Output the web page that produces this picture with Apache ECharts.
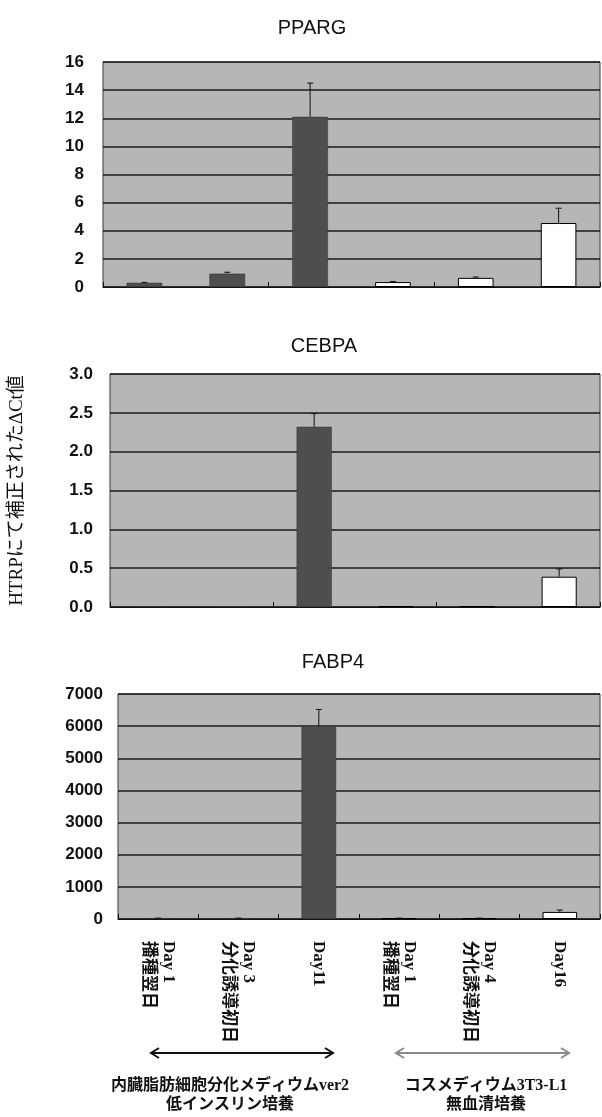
<!DOCTYPE html>
<html>
<head>
<meta charset="utf-8">
<script src="https://cdn.jsdelivr.net/npm/echarts@6/dist/echarts.min.js"></script>
<style>
  html, body { margin: 0; padding: 0; background: #fff; }
  #chart { width: 602px; height: 1117px; }
</style>
</head>
<body>
<div id="chart"></div>
<script>
// Sampling points: day label and culture stage note for each bar
const dayLabels = ['Day 1', 'Day 3', 'Day11', 'Day 1', 'Day 4', 'Day16'];
const stageNotes = ['播種翌日', '分化誘導初日', '', '播種翌日', '分化誘導初日', ''];
// Medium used for each bar (0 = 内臓脂肪細胞分化メディウムver2, 1 = コスメディウム3T3-L1)
const mediumIndex = [0, 0, 0, 1, 1, 1];

// Relative expression (ΔCt corrected by HTRP) and upper error per gene
const ppargValues = [0.3, 0.95, 12.1, 0.35, 0.65, 4.55];
const ppargErrors = [0.03, 0.1, 2.4, 0.04, 0.06, 1.05];
const cebpaValues = [0.01, 0.01, 2.32, 0.01, 0.01, 0.39];
const cebpaErrors = [0.0, 0.0, 0.17, 0.0, 0.0, 0.1];
const fabp4Values = [25, 25, 6000, 25, 25, 220];
const fabp4Errors = [3, 3, 520, 3, 3, 60];

// Tick settings per panel
const ppargTicks = { min: 0, max: 16, interval: 2 };
const cebpaTicks = { min: 0, max: 3, interval: 0.5 };
const fabp4Ticks = { min: 0, max: 7000, interval: 1000 };

const sansFont = "'Liberation Sans', Arial, 'Noto Sans CJK JP', sans-serif";
const serifFont = "'Liberation Serif', 'DejaVu Serif', 'Noto Sans CJK JP', serif";

const darkFill = '#4e4e4e';
const plotFill = '#b6b6b6';

const categories = dayLabels.map((d, i) => d + (stageNotes[i] ? '\n' + stageNotes[i] : ''));

function barData(values) {
  return values.map((v, i) => ({
    value: v,
    itemStyle: mediumIndex[i] === 0
      ? { color: darkFill, borderColor: '#333', borderWidth: 0.5 }
      : { color: '#ffffff', borderColor: '#000', borderWidth: 1 }
  }));
}

function errorData(values, errors) {
  return values.map((v, i) => [i, v, errors[i]]);
}

// Upper error whisker with a short cap
function renderError(params, api) {
  const idx = api.value(0);
  const v = api.value(1);
  const e = api.value(2);
  if (!(e > 0)) return null;
  const base = api.coord([idx, v]);
  const top = api.coord([idx, v + e]);
  const style = { stroke: '#111', lineWidth: 1 };
  return {
    type: 'group',
    children: [
      { type: 'line', shape: { x1: base[0], y1: base[1], x2: top[0], y2: top[1] }, style },
      { type: 'line', shape: { x1: top[0] - 3, y1: top[1], x2: top[0] + 3, y2: top[1] }, style }
    ]
  };
}

const grids = [
  { left: 103, right: 2, top: 62, height: 225 },
  { left: 109, right: 2, top: 374, height: 233 },
  { left: 118, right: 2, top: 694, height: 225 }
].map(g => Object.assign(g, {
  show: true, backgroundColor: plotFill, borderColor: '#3a3a3a', borderWidth: 1, containLabel: false
}));

function makeXAxis(gridIndex, showLabels) {
  return {
    type: 'category',
    gridIndex,
    data: categories,
    boundaryGap: true,
    axisLine: { show: true, lineStyle: { color: '#111', width: 1 } },
    axisTick: { show: true, inside: true, length: 5, lineStyle: { color: '#111' } },
    splitLine: { show: false },
    axisLabel: showLabels ? {
      show: true,
      rotate: -90,
      margin: 22,
      interval: 0,
      formatter: (val, idx) => {
        const note = stageNotes[idx];
        return '{d|' + dayLabels[idx] + '}' + (note ? '\n{n|' + note + '}' : '');
      },
      rich: {
        d: { fontFamily: serifFont, fontSize: 17, fontWeight: 'bold', color: '#111', lineHeight: 20 },
        n: { fontFamily: serifFont, fontSize: 17, fontWeight: 'bold', color: '#111', lineHeight: 20 }
      }
    } : { show: false }
  };
}

function makeYAxis(gridIndex, ticks, margin, decimals, extra) {
  return Object.assign({
    type: 'value',
    gridIndex,
    min: ticks.min,
    max: ticks.max,
    interval: ticks.interval,
    axisLine: { show: false },
    axisTick: { show: false },
    splitLine: { show: true, lineStyle: { color: '#1a1a1a', width: 1.5 } },
    axisLabel: {
      margin,
      fontFamily: sansFont,
      fontSize: 17,
      fontWeight: 'bold',
      color: '#111',
      formatter: v => v.toFixed(decimals)
    }
  }, extra || {});
}

function panelSeries(idx, values, errors) {
  return [
    {
      type: 'bar',
      xAxisIndex: idx,
      yAxisIndex: idx,
      barWidth: '43%',
      data: barData(values),
      silent: true
    },
    {
      type: 'custom',
      xAxisIndex: idx,
      yAxisIndex: idx,
      renderItem: renderError,
      data: errorData(values, errors),
      z: 5,
      silent: true
    }
  ];
}

const titleStyle = { fontFamily: sansFont, fontSize: 20, fontWeight: 'normal', color: '#111' };

const captionFont = 'bold 16px ' + serifFont;

const option = {
  animation: false,
  backgroundColor: '#ffffff',
  title: [
    { text: 'PPARG', left: 307, top: 13, textAlign: 'center', textStyle: titleStyle },
    { text: 'CEBPA', left: 319, top: 331, textAlign: 'center', textStyle: titleStyle },
    { text: 'FABP4', left: 328, top: 647, textAlign: 'center', textStyle: titleStyle }
  ],
  grid: grids,
  xAxis: [makeXAxis(0, false), makeXAxis(1, false), makeXAxis(2, true)],
  yAxis: [
    makeYAxis(0, ppargTicks, 19, 0),
    makeYAxis(1, cebpaTicks, 17, 1, {
      name: 'HTRPにて補正されたΔCt値',
      nameLocation: 'middle',
      nameRotate: 90,
      nameGap: 83,
      nameTextStyle: { fontFamily: serifFont, fontSize: 19, color: '#111' }
    }),
    makeYAxis(2, fabp4Ticks, 15, 0)
  ],
  series: [].concat(
    panelSeries(0, ppargValues, ppargErrors),
    panelSeries(1, cebpaValues, cebpaErrors),
    panelSeries(2, fabp4Values, fabp4Errors)
  ),
  graphic: [
    // double-headed arrow spanning the ver2 samples
    { type: 'line', shape: { x1: 151, y1: 1053, x2: 333, y2: 1053 }, style: { stroke: '#111', lineWidth: 2 } },
    { type: 'polyline', shape: { points: [[159, 1048], [151, 1053], [159, 1058]] }, style: { stroke: '#111', lineWidth: 2, fill: null } },
    { type: 'polyline', shape: { points: [[325, 1048], [333, 1053], [325, 1058]] }, style: { stroke: '#111', lineWidth: 2, fill: null } },
    // double-headed arrow spanning the 3T3-L1 samples
    { type: 'line', shape: { x1: 396, y1: 1053, x2: 569, y2: 1053 }, style: { stroke: '#8a8a8a', lineWidth: 2 } },
    { type: 'polyline', shape: { points: [[404, 1048], [396, 1053], [404, 1058]] }, style: { stroke: '#8a8a8a', lineWidth: 2, fill: null } },
    { type: 'polyline', shape: { points: [[561, 1048], [569, 1053], [561, 1058]] }, style: { stroke: '#8a8a8a', lineWidth: 2, fill: null } },
    // medium captions
    {
      type: 'text',
      style: {
        text: '内臓脂肪細胞分化メディウムver2\n低インスリン培養',
        x: 230, y: 1076, align: 'center', verticalAlign: 'top',
        font: captionFont, lineHeight: 19, fill: '#111'
      }
    },
    {
      type: 'text',
      style: {
        text: 'コスメディウム3T3-L1\n無血清培養',
        x: 486, y: 1076, align: 'center', verticalAlign: 'top',
        font: captionFont, lineHeight: 19, fill: '#111'
      }
    }
  ]
};

const chart = echarts.init(document.getElementById('chart'), null, { renderer: 'canvas' });
chart.setOption(option);
</script>
</body>
</html>
